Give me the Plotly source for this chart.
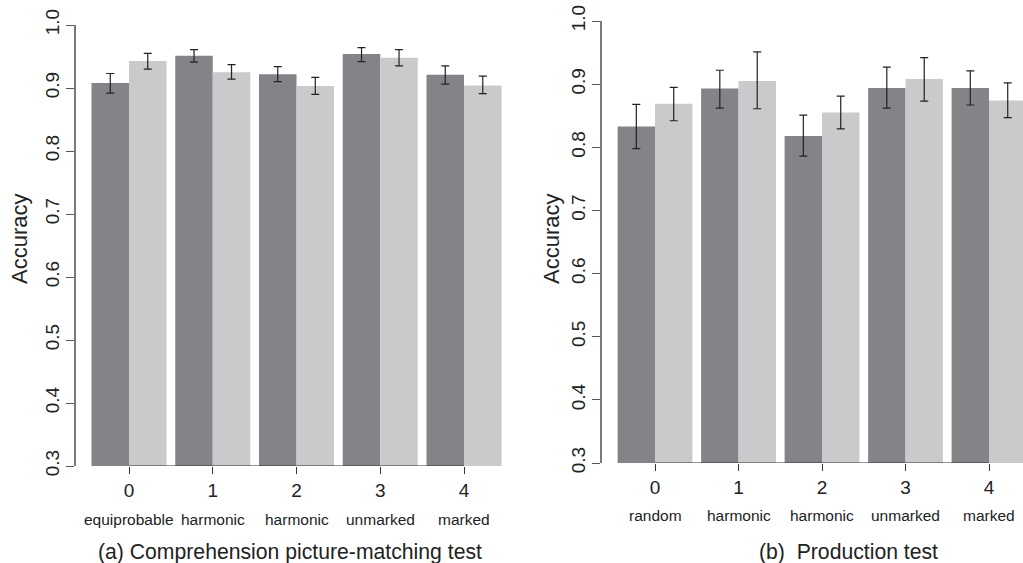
import plotly.graph_objects as go

W, H = 1023, 563

levels = [0, 1, 2, 3, 4]
level_labels = ["0", "1", "2", "3", "4"]
cats_a = ["equiprobable", "harmonic", "harmonic", "unmarked", "marked"]
cats_b = ["random", "harmonic", "harmonic", "unmarked", "marked"]

a_dark = [0.908, 0.951, 0.922, 0.954, 0.921]
a_dark_hi = [0.923, 0.961, 0.934, 0.964, 0.935]
a_dark_lo = [0.892, 0.941, 0.910, 0.942, 0.906]
a_light = [0.943, 0.925, 0.903, 0.948, 0.904]
a_light_hi = [0.955, 0.937, 0.917, 0.961, 0.919]
a_light_lo = [0.930, 0.914, 0.890, 0.935, 0.891]

b_dark = [0.833, 0.893, 0.818, 0.894, 0.894]
b_dark_hi = [0.868, 0.922, 0.851, 0.927, 0.921]
b_dark_lo = [0.798, 0.862, 0.786, 0.862, 0.867]
b_light = [0.869, 0.905, 0.855, 0.908, 0.874]
b_light_hi = [0.895, 0.951, 0.881, 0.942, 0.902]
b_light_lo = [0.842, 0.861, 0.829, 0.873, 0.847]

y_ticks = [0.3, 0.4, 0.5, 0.6, 0.7, 0.8, 0.9, 1.0]

DARK = "#838488"
LIGHT = "#c9cacc"
ERR = "#222222"
TXT = "#222222"
FONT = "Liberation Sans, Arial, Helvetica, sans-serif"


def px_x(p):
    return p / W


def px_y(p):
    return 1 - p / H


def err(vals, hi, lo):
    return dict(type="data", symmetric=False,
                array=[h - v for h, v in zip(hi, vals)],
                arrayminus=[v - l for v, l in zip(vals, lo)],
                color=ERR, thickness=1.2, width=4)


fig = go.Figure()
for xa, ya, d, dh, dl, l, lh, ll in [
    ("x", "y", a_dark, a_dark_hi, a_dark_lo, a_light, a_light_hi, a_light_lo),
    ("x2", "y2", b_dark, b_dark_hi, b_dark_lo, b_light, b_light_hi, b_light_lo),
]:
    fig.add_trace(go.Bar(x=levels, y=d, marker=dict(color=DARK, line=dict(width=0)),
                         error_y=err(d, dh, dl), xaxis=xa, yaxis=ya, showlegend=False))
    fig.add_trace(go.Bar(x=levels, y=l, marker=dict(color=LIGHT, line=dict(width=0)),
                         error_y=err(l, lh, ll), xaxis=xa, yaxis=ya, showlegend=False))

xcommon = dict(tickvals=levels, ticktext=level_labels, ticks="outside", ticklen=7,
               tickcolor="#333333", tickwidth=1.2, showline=False, showgrid=False,
               zeroline=False, automargin=False,
               tickfont=dict(size=19, color=TXT, family=FONT))
ycommon = dict(range=[0.3, 1.0], tickvals=y_ticks, tickformat=".1f", ticks="outside",
               ticklen=8, tickcolor="#555555", tickwidth=1.2, showline=True,
               linecolor="#7a7a7a", linewidth=1.5, showgrid=False, zeroline=False,
               automargin=False, tickangle=-90,
               tickfont=dict(size=19, color=TXT, family=FONT))

fig.update_layout(
    width=W, height=H,
    margin=dict(l=0, r=0, t=0, b=0),
    paper_bgcolor="white", plot_bgcolor="white",
    barmode="group", bargap=0.104, bargroupgap=0,
    font=dict(family=FONT, color=TXT),
    xaxis=dict(domain=[px_x(76), px_x(510)], range=[-0.633, 4.549], anchor="y", **xcommon),
    yaxis=dict(domain=[px_y(466), px_y(25)], anchor="x", **ycommon),
    xaxis2=dict(domain=[px_x(602), 1.0], range=[-0.635, 4.407], anchor="y2", **xcommon),
    yaxis2=dict(domain=[px_y(463), px_y(21)], anchor="x2", **ycommon),
)

# R-style x axis lines spanning first to last tick
for xr, yr in [("x", "y"), ("x2", "y2")]:
    fig.add_shape(type="line", xref=xr, yref=yr, x0=levels[0], x1=levels[-1],
                  y0=0.3, y1=0.3, line=dict(color="#333333", width=1.2))

anns = []
for lab, lv in zip(cats_a, levels):
    anns.append(dict(x=lv, xref="x", y=px_y(519.5), yref="paper", text=lab,
                     showarrow=False, xanchor="center", yanchor="middle",
                     font=dict(size=15.5, color=TXT, family=FONT)))
for lab, lv in zip(cats_b, levels):
    anns.append(dict(x=lv, xref="x2", y=px_y(515.5), yref="paper", text=lab,
                     showarrow=False, xanchor="center", yanchor="middle",
                     font=dict(size=15.5, color=TXT, family=FONT)))
anns.append(dict(x=px_x(290), y=px_y(552), xref="paper", yref="paper",
                 text="(a) Comprehension picture-matching test", showarrow=False,
                 xanchor="center", yanchor="middle", font=dict(size=21.2, color=TXT, family=FONT)))
anns.append(dict(x=px_x(848), y=px_y(552), xref="paper", yref="paper",
                 text="(b)\u00a0 Production test", showarrow=False,
                 xanchor="center", yanchor="middle", font=dict(size=21.2, color=TXT, family=FONT)))
for xc in [20, 552]:
    anns.append(dict(x=px_x(xc), y=px_y(239), xref="paper", yref="paper",
                     text="Accuracy", textangle=-90, showarrow=False,
                     xanchor="center", yanchor="middle",
                     font=dict(size=22, color=TXT, family=FONT)))
fig.update_layout(annotations=anns)

fig.write_html("out.html", config={"displayModeBar": False},
               post_script="document.body.style.margin='0';")
